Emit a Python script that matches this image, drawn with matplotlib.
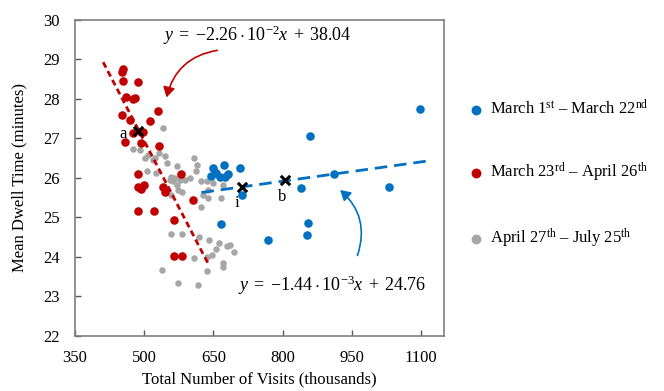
import matplotlib
matplotlib.use("Agg")
import matplotlib.pyplot as plt
from matplotlib.patches import FancyArrowPatch

plt.rcParams['font.family'] = ['Liberation Serif', 'DejaVu Serif']
plt.rcParams['mathtext.fontset'] = 'custom'
plt.rcParams['mathtext.rm'] = 'Liberation Serif'
plt.rcParams['mathtext.it'] = 'Liberation Serif:italic'
plt.rcParams['mathtext.bf'] = 'Liberation Serif:bold'

# ---------------- data ----------------
blue_x = [1097, 860, 839, 911, 1030, 855, 853, 768, 667, 712, 648, 672, 708, 644, 664, 681, 656, 676]
blue_y = [27.75, 27.07, 25.74, 26.11, 25.77, 24.85, 24.55, 24.43, 24.84, 25.56, 26.24, 26.32, 26.26, 26.06, 26.03, 26.09, 26.12, 26.02]

red_x = [455, 451, 455, 486, 460, 476, 481, 451, 470, 512, 530, 494, 476, 498, 458, 494, 532,
         486, 486, 500, 493, 540, 545, 579, 606, 486, 522, 564, 564, 581]
red_y = [28.75, 28.67, 28.46, 28.42, 28.06, 27.99, 28.02, 27.59, 27.47, 27.44, 27.70, 27.17, 27.13, 27.15, 26.92, 26.89, 26.82,
         26.09, 25.78, 25.81, 25.71, 25.78, 25.65, 26.09, 25.44, 25.15, 25.15, 24.94, 24.01, 24.01]

gray_x = [540, 476, 490, 501, 508, 519, 523, 505, 525, 550, 572, 608, 613, 615, 559, 566, 563, 556, 570, 577,
          588, 599, 574, 559, 581, 624, 635, 649, 671, 639, 639, 667, 624, 628, 558, 581, 618, 640, 662, 680,
          685, 694, 655, 646, 635, 608, 670, 671, 635, 539, 574, 616, 532, 545]
gray_y = [27.27, 26.74, 26.70, 26.50, 26.58, 26.46, 26.50, 26.18, 26.12, 26.38, 26.30, 26.50, 26.18, 26.33, 26.03, 25.99, 25.91, 25.95, 25.82, 25.95,
          25.95, 25.99, 25.70, 25.57, 25.65, 25.91, 25.91, 25.87, 25.82, 25.70, 25.50, 25.49, 25.27, 25.57, 24.57, 24.57, 24.50, 24.43, 24.35, 24.28,
          24.30, 24.12, 24.19, 24.05, 23.99, 23.97, 23.84, 23.74, 23.63, 23.67, 23.33, 23.29, 26.62, 26.55]

mark_x = [487, 711, 806]
mark_y = [27.19, 25.78, 25.95]
mark_labels = ['a', 'i', 'b']

red_line_x = [411, 638]
red_line_y = [28.93, 23.84]
blue_line_x = [624, 1115]
blue_line_y = [25.63, 26.43]

labels = ['March 1$^{\\rm st}$ – March 22$^{\\rm nd}$',
          'March 23$^{\\rm rd}$ – April 26$^{\\rm th}$',
          'April 27$^{\\rm th}$ – July 25$^{\\rm th}$']

xticks = [350, 500, 650, 800, 950, 1100]
yticks = [22, 23, 24, 25, 26, 27, 28, 29, 30]

BLUE = '#0070C0'
RED = '#C00000'
GRAY = '#A6A6A6'

fig = plt.figure(figsize=(6.64, 3.91), dpi=100)
ax = fig.add_axes([0.113, 0.141, 0.556, 0.808])

sg = ax.scatter(gray_x, gray_y, s=22, color=GRAY, zorder=2, linewidths=0)
sr = ax.scatter(red_x, red_y, s=38, color=RED, zorder=3, linewidths=0)
sb = ax.scatter(blue_x, blue_y, s=38, color=BLUE, zorder=3, linewidths=0)

ax.plot(red_line_x, red_line_y, color=RED, lw=2.0, dashes=(2.2, 1.4), zorder=4)
ax.plot(blue_line_x, blue_line_y, color=BLUE, lw=2.0, dashes=(4.5, 2.5), zorder=4)

ax.scatter(mark_x, mark_y, marker='x', s=45, color='black', linewidths=2.2, zorder=6)
ax.text(mark_x[0] - 26, mark_y[0] - 0.08, mark_labels[0], ha='right', va='center', fontsize=12, zorder=7)
ax.text(mark_x[1] - 10, mark_y[1] - 0.22, mark_labels[1], ha='center', va='top', fontsize=12, zorder=7)
ax.text(mark_x[2] - 8, mark_y[2] - 0.22, mark_labels[2], ha='center', va='top', fontsize=12, zorder=7)

ax.text(746, 29.62, r'$y\;=\;{-}2.26 \cdot 10^{-2}x\;+\;38.04$', ha='center', va='center', fontsize=13)
ax.text(907, 23.29, r'$y\;=\;{-}1.44 \cdot 10^{-3}x\;+\;24.76$', ha='center', va='center', fontsize=13)

ax.add_patch(FancyArrowPatch((664, 29.24), (547, 27.97), connectionstyle='arc3,rad=0.35',
                             arrowstyle='-|>,head_length=6,head_width=3.5', color=RED, lw=1.2, zorder=5))
ax.add_patch(FancyArrowPatch((960, 23.97), (920, 25.74), connectionstyle='arc3,rad=0.35',
                             arrowstyle='-|>,head_length=6,head_width=3.5', color=BLUE, lw=1.2, zorder=5))

ax.set_xlim(350, 1150)
ax.set_ylim(22, 30)
ax.set_xticks(xticks)
ax.set_yticks(yticks)
ax.tick_params(direction='in', labelsize=12, length=4, color='#595959', width=1)
ax.tick_params(axis='x', pad=10)
ax.tick_params(axis='y', pad=11)
for s in ax.spines.values():
    s.set_color('#7F7F7F')
    s.set_linewidth(1.2)
ax.set_xlabel('Total Number of Visits (thousands)', fontsize=12, labelpad=4)
ax.set_ylabel('Mean Dwell Time (minutes)', fontsize=12, labelpad=11)

leg = ax.legend([sb, sr, sg], labels, loc='upper left', bbox_to_anchor=(468 / 664, 1 - 99 / 391),
                bbox_transform=fig.transFigure, frameon=False, fontsize=12, borderpad=0, borderaxespad=0,
                handlelength=1.0, handletextpad=0.3, labelspacing=2.55, markerscale=1.3)
for h in leg.legend_handles:
    h.set_sizes([50])

fig.savefig('out.png', dpi=100)
